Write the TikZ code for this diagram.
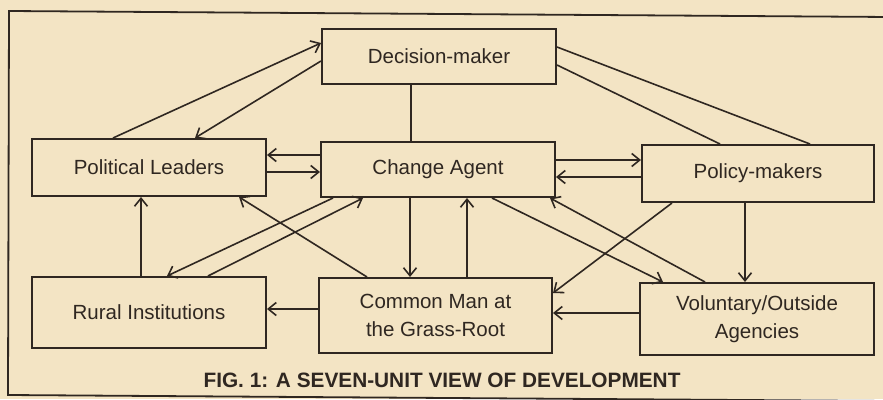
\documentclass[tikz,border=0pt]{standalone}
\usepackage{fontspec}
\setmainfont{Liberation Sans}
\usetikzlibrary{arrows.meta,calc}
\definecolor{paper}{HTML}{F3E4C4}
\definecolor{ink}{HTML}{2F2721}
\tikzset{
  unit/.style={draw=ink, line width=2pt, fill=paper, text=ink,
    font=\fontsize{20.5}{27.5}\selectfont, align=center,
    minimum width=234pt, inner sep=0pt},
  arr/.style={draw=ink, line width=1.6pt,
    -{Straight Barb[length=8pt,width=13pt]}},
  link/.style={draw=ink, line width=1.6pt}
}
\begin{document}
\begin{tikzpicture}[x=1pt,y=-1pt]
  % page and frame
  \fill[paper] (0,0) rectangle (883,399);
  \useasboundingbox (0,0) rectangle (883,399);
  \begin{scope}
    \clip (0,0) rectangle (883,399);
    \draw[ink, line width=1.8pt] (890,17) -- (9,11) -- (8,395) -- (890,401);
  \end{scope}

  % the seven units
  \node[unit, minimum height=55pt] (dm) at (439,56.5) {Decision-maker};
  \node[unit, minimum height=57pt] (pl) at (149,167.5) {Political Leaders};
  \node[unit, minimum height=55pt] (ca) at (438,169.5) {Change Agent};
  \node[unit, minimum height=57pt, minimum width=232pt] (pm) at (758,173.5) {Policy-makers};
  \node[unit, minimum height=71pt] (ri) at (149,312.5) {Rural Institutions};
  \node[unit, minimum height=75pt, minimum width=233pt] (cm) at (435.5,315.5) {Common Man at\\the Grass-Root};
  \node[unit, minimum height=72pt] (va) at (757,319) {Voluntary/Outside\\Agencies};

  % caption
  \node[text=ink, font=\bfseries\fontsize{20.8}{24}\selectfont] (cap) at (442,380)
    {FIG. 1: A SEVEN-UNIT VIEW OF DEVELOPMENT};

  % top tier
  \draw[arr] ($(pl.north)+(-36,0)$) -- ($(dm.west)+(0,-13.5)$);
  \draw[arr] ($(dm.west)+(0,4.5)$) -- ($(pl.north)+(46,0)$);
  \draw[link] ($(dm.south)+(-28,0)$) -- ($(ca.north)+(-27,0)$);
  \draw[link] ($(dm.east)+(0,-9.5)$) -- ($(pm.north)+(52,0)$);
  \draw[link] ($(dm.east)+(0,8.5)$) -- ($(pm.north)+(-38,0)$);

  % middle tier
  \draw[arr] ($(ca.west)+(0,-14.5)$) -- ($(pl.east)+(0,-12.5)$);
  \draw[arr] ($(pl.east)+(0,4.5)$) -- ($(ca.west)+(0,2.5)$);
  \draw[arr] ($(ca.east)+(0,-9.5)$) -- ($(pm.west)+(0,-13.5)$);
  \draw[arr] ($(pm.west)+(0,3.5)$) -- ($(ca.east)+(0,7.5)$);

  % between middle and bottom tiers
  \draw[arr] ($(ri.north)+(-8,0)$) -- ($(pl.south)+(-8,0)$);
  \draw[arr] ($(ca.south)+(-105,0)$) -- ($(ri.north)+(18,0)$);
  \draw[arr] ($(ri.north)+(59,0)$) -- ($(ca.south)+(-75,0)$);
  \draw[arr] ($(cm.north)+(-68.5,0)$) -- ($(pl.south)+(90,0)$);
  \draw[arr] ($(ca.south)+(-28,0)$) -- ($(cm.north)+(-25.5,0)$);
  \draw[arr] ($(cm.north)+(31.5,0)$) -- ($(ca.south)+(29,0)$);
  \draw[arr] ($(ca.south)+(54,0)$) -- ($(va.north)+(-94,0)$);
  \draw[arr] ($(va.north)+(-52,0)$) -- ($(ca.south)+(112,0)$);
  \draw[arr] ($(pm.south)+(-86,0)$) -- ($(cm.east)+(0,-22.5)$);
  \draw[arr] ($(pm.south)+(-13,0)$) -- ($(va.north)+(-12,0)$);

  % bottom tier
  \draw[arr] ($(va.west)+(0,-6)$) -- ($(cm.east)+(0,-2.5)$);
  \draw[arr] ($(cm.west)+(0,-6.5)$) -- ($(ri.east)+(0,-3.5)$);
\end{tikzpicture}
\end{document}
